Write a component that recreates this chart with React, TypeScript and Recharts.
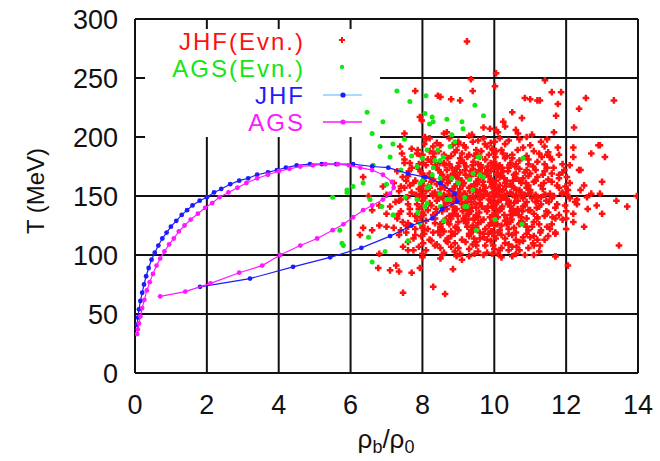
import { ScatterChart, Scatter, XAxis, YAxis, ReferenceLine } from "recharts";

// axis ticks
const rhoTicks = [0, 2, 4, 6, 8, 10, 12, 14];
const tempTicks = [0, 50, 100, 150, 200, 250, 300];

// event-by-event (rho_b/rho_0, T) points
const jhfEvents: [number, number][] = [
  // upper tail
  [9.24, 281], [10.05, 254], [9.35, 249], [10.02, 243], [9.4, 239], [8.5, 234], [8.8, 232], [9.05, 231],
  [10.85, 233], [11.0, 232], [11.2, 231], [10.5, 221], [10.25, 213], [10.3, 209], [10.77, 216], [9.7, 208],
  [9.88, 207], [10.05, 206], [10.66, 203], [8.68, 204], [9.38, 202], [11.05, 202],
  [11.41, 248], [11.6, 238], [11.86, 238], [11.27, 231], [11.77, 228], [12.55, 233], [13.33, 231], [12.36, 224],
  [11.72, 218], [12.22, 208], [11.66, 204], [11.47, 198], [12.9, 193], [12.2, 191], [11.77, 191], [12.7, 186],
  [13.08, 183], [11.47, 185], [11.8, 185], [12.1, 176], [11.47, 174], [12.36, 172], [11.9, 170], [11.6, 169],
  [7.8, 239], [8.43, 235], [7.93, 217], [7.98, 214], [7.5, 203], [8.07, 200], [8.2, 199], [7.38, 192],
  [7.43, 186], [7.87, 189], [7.5, 178], [12.94, 193],
  // right tail
  [12.94, 152], [12.85, 142], [13.0, 135], [13.7, 141], [12.5, 124], [13.47, 108], [13.97, 150], [12.58, 149],
  [12.25, 145], [12.2, 135], [11.7, 99], [11.27, 108], [11.7, 119], [11.47, 124], [11.7, 131], [12.4, 155],
  // lower / left tail
  [8.85, 88], [8.63, 67], [7.46, 68], [8.3, 73], [6.77, 89], [7.1, 87], [7.35, 86], [7.7, 85], [7.27, 91],
  [7.93, 89], [6.8, 101], [12.05, 91], [6.26, 117], [6.35, 123], [6.6, 121], [6.8, 125], [7.0, 124],
  [7.2, 123], [7.46, 107], [7.6, 104], [8.0, 98], [6.35, 166], [6.8, 142], [6.5, 150], [6.9, 158], [7.0, 135],
  [6.6, 138],
  // core
  [8.1, 198], [8.6, 203], [9.0, 196], [9.3, 201], [9.7, 199], [10.1, 204], [10.4, 197], [10.9, 200], [8.4, 195],
  [9.9, 195], [10.6, 206], [11.3, 196],
  [7.7, 190], [8.2, 188], [8.5, 193], [8.9, 187], [9.2, 191], [9.5, 186], [9.8, 192], [10.2, 189], [10.5, 185],
  [10.8, 191], [11.1, 188], [9.0, 194], [8.0, 185], [10.0, 186], [11.5, 187],
  [7.5, 181], [7.9, 177], [8.3, 183], [8.6, 178], [8.8, 184], [9.1, 180], [9.4, 176], [9.6, 183], [9.9, 178],
  [10.3, 182], [10.6, 177], [10.9, 184], [11.2, 179], [11.6, 181], [8.1, 176], [9.3, 185], [10.1, 175],
  [10.7, 180], [11.9, 177], [12.2, 183],
  [7.3, 171], [7.6, 167], [7.9, 173], [8.2, 169], [8.4, 174], [8.7, 166], [8.9, 171], [9.2, 168], [9.4, 173],
  [9.7, 166], [9.9, 171], [10.2, 167], [10.4, 174], [10.6, 169], [10.9, 172], [11.2, 166], [11.4, 171],
  [11.8, 168], [8.5, 170], [9.0, 175], [9.6, 170], [10.1, 173], [10.8, 165], [11.0, 169], [12.4, 172], [7.7, 174],
  [7.2, 161], [7.5, 157], [7.8, 163], [8.0, 159], [8.3, 164], [8.5, 156], [8.7, 161], [8.9, 158], [9.1, 163],
  [9.3, 157], [9.5, 162], [9.7, 159], [9.9, 164], [10.1, 156], [10.3, 161], [10.5, 158], [10.7, 163],
  [10.9, 157], [11.1, 162], [11.3, 159], [11.5, 164], [11.8, 157], [12.1, 161], [8.2, 157], [9.0, 165],
  [9.6, 155], [10.0, 160], [10.6, 165], [11.0, 155], [12.5, 159], [13.0, 162], [7.9, 156],
  [7.0, 151], [7.4, 147], [7.7, 153], [7.9, 149], [8.1, 154], [8.4, 146], [8.6, 151], [8.8, 148], [9.0, 153],
  [9.2, 145], [9.4, 150], [9.6, 147], [9.8, 152], [10.0, 149], [10.2, 154], [10.4, 146], [10.6, 151],
  [10.8, 148], [11.0, 153], [11.2, 146], [11.4, 151], [11.6, 148], [11.9, 153], [12.3, 147], [8.3, 150],
  [8.9, 146], [9.5, 154], [10.1, 145], [10.7, 155], [11.3, 149], [12.7, 152], [13.4, 146], [9.1, 149], [9.9, 146],
  [7.1, 141], [7.4, 137], [7.6, 143], [7.9, 139], [8.2, 144], [8.4, 136], [8.6, 141], [8.9, 138], [9.1, 143],
  [9.3, 135], [9.5, 140], [9.8, 137], [10.0, 142], [10.2, 139], [10.4, 144], [10.6, 136], [10.8, 141],
  [11.0, 138], [11.3, 143], [11.5, 136], [11.7, 140], [12.0, 137], [12.3, 143], [8.0, 136], [8.7, 145],
  [9.6, 144], [10.5, 139], [11.1, 135], [12.6, 139], [9.2, 140], [10.9, 145],
  [7.3, 131], [7.6, 127], [7.8, 133], [8.1, 129], [8.3, 134], [8.5, 126], [8.8, 131], [9.0, 128], [9.2, 133],
  [9.4, 125], [9.7, 130], [9.9, 127], [10.1, 132], [10.3, 129], [10.5, 134], [10.7, 126], [10.9, 131],
  [11.1, 128], [11.4, 133], [11.6, 126], [11.9, 130], [8.6, 129], [9.5, 134], [10.2, 125], [11.2, 132],
  [12.2, 128], [8.0, 125],
  [7.4, 121], [7.8, 117], [8.0, 123], [8.3, 119], [8.5, 124], [8.8, 116], [9.0, 121], [9.3, 118], [9.5, 123],
  [9.7, 115], [9.9, 120], [10.2, 117], [10.4, 122], [10.6, 119], [10.9, 124], [11.1, 116], [11.3, 121],
  [11.7, 118], [8.6, 120], [9.6, 119], [10.0, 125], [10.8, 115], [12.0, 122], [7.6, 124],
  [7.6, 111], [7.9, 107], [8.2, 113], [8.4, 109], [8.7, 114], [9.0, 106], [9.2, 111], [9.5, 108], [9.8, 113],
  [10.0, 105], [10.3, 110], [10.5, 107], [10.8, 112], [11.1, 108], [11.4, 113], [8.9, 110], [9.6, 114],
  [10.2, 106], [11.0, 115],
  [8.0, 101], [8.5, 97], [8.9, 103], [9.3, 99], [9.8, 102], [10.2, 98], [10.6, 101], [11.1, 100], [9.1, 96],
  [10.4, 104], [11.7, 99],
  // core, second pass
  [8.3, 192], [8.75, 199], [9.15, 193], [9.55, 197], [9.95, 190], [10.3, 194], [10.7, 198], [11.0, 193],
  [8.05, 194], [9.4, 196], [10.15, 199], [11.4, 192],
  [7.85, 186], [8.15, 181], [8.45, 188], [8.7, 182], [8.95, 189], [9.25, 183], [9.5, 189], [9.75, 181],
  [10.05, 188], [10.35, 184], [10.65, 189], [10.95, 181], [11.25, 186], [11.55, 183], [8.6, 185], [9.85, 185],
  [10.5, 182], [9.05, 182],
  [7.65, 178], [7.95, 171], [8.25, 179], [8.45, 172], [8.75, 177], [8.95, 173], [9.15, 178], [9.35, 171],
  [9.55, 177], [9.8, 172], [10.0, 179], [10.25, 171], [10.45, 178], [10.7, 173], [10.95, 177], [11.15, 172],
  [11.4, 177], [11.65, 174], [8.35, 176], [9.65, 174], [10.85, 170], [9.05, 170], [10.15, 176], [11.95, 172],
  [7.45, 166], [7.75, 161], [8.05, 167], [8.25, 162], [8.55, 168], [8.75, 163], [8.95, 166], [9.15, 161],
  [9.35, 167], [9.55, 164], [9.75, 169], [9.95, 161], [10.15, 166], [10.35, 163], [10.55, 168], [10.75, 161],
  [10.95, 167], [11.15, 163], [11.35, 168], [11.6, 162], [8.4, 160], [9.45, 160], [10.45, 160], [11.8, 165],
  [9.85, 167], [8.85, 169], [10.05, 163],
  [7.35, 154], [7.65, 159], [7.95, 152], [8.15, 158], [8.35, 153], [8.55, 159], [8.75, 154], [8.95, 160],
  [9.15, 152], [9.35, 158], [9.55, 151], [9.75, 157], [9.95, 153], [10.15, 159], [10.35, 152], [10.55, 157],
  [10.75, 153], [10.95, 159], [11.15, 151], [11.35, 156], [11.55, 152], [11.75, 159], [12.05, 155],
  [8.45, 151], [9.05, 156], [9.65, 150], [10.25, 155], [10.85, 151], [9.45, 155], [10.45, 153], [8.85, 156],
  [7.25, 145], [7.55, 149], [7.85, 143], [8.05, 148], [8.25, 142], [8.45, 149], [8.65, 144], [8.85, 141],
  [9.05, 147], [9.25, 142], [9.45, 148], [9.65, 141], [9.85, 147], [10.05, 144], [10.25, 149], [10.45, 141],
  [10.65, 146], [10.85, 142], [11.05, 148], [11.25, 141], [11.45, 146], [11.75, 143], [12.1, 148],
  [8.75, 147], [9.35, 145], [9.95, 140], [10.55, 144], [11.15, 145], [9.15, 140], [10.35, 147],
  [7.35, 135], [7.65, 139], [7.95, 132], [8.15, 138], [8.35, 131], [8.55, 137], [8.75, 133], [8.95, 139],
  [9.15, 131], [9.35, 137], [9.55, 132], [9.75, 139], [9.95, 134], [10.15, 138], [10.35, 131], [10.55, 136],
  [10.75, 132], [10.95, 138], [11.2, 131], [11.45, 137], [11.8, 134], [8.85, 135], [9.45, 130], [10.05, 136],
  [10.65, 139], [9.25, 138], [10.45, 134],
  [7.55, 125], [7.85, 129], [8.15, 122], [8.35, 127], [8.55, 121], [8.75, 126], [8.95, 123], [9.15, 129],
  [9.35, 121], [9.55, 127], [9.75, 122], [9.95, 128], [10.15, 121], [10.35, 126], [10.55, 123], [10.75, 129],
  [10.95, 121], [11.25, 126], [11.55, 122], [8.65, 130], [9.25, 124], [9.85, 125], [10.45, 128], [11.05, 124],
  [7.75, 114], [8.05, 118], [8.25, 112], [8.5, 117], [8.7, 111], [8.9, 118], [9.1, 113], [9.3, 116],
  [9.5, 111], [9.7, 118], [9.9, 112], [10.1, 119], [10.3, 114], [10.5, 117], [10.7, 111], [10.9, 118],
  [11.2, 113], [11.5, 116], [8.8, 120], [9.4, 120], [10.0, 116], [10.6, 113],
  [8.1, 104], [8.35, 108], [8.6, 102], [8.8, 107], [9.05, 101], [9.3, 105], [9.55, 103], [9.75, 108],
  [9.95, 101], [10.15, 104], [10.4, 109], [10.7, 104], [10.95, 106], [11.25, 103], [8.5, 106], [9.4, 109],
  // densest part of the core
  [8.62, 176], [8.82, 174], [9.02, 178], [9.22, 175], [9.42, 179], [9.62, 176], [9.82, 175], [10.02, 177],
  [10.22, 174], [10.42, 176],
  [8.68, 172], [8.92, 168], [9.18, 172], [9.38, 169], [9.58, 172], [9.78, 168], [9.98, 174], [10.18, 169],
  [10.38, 171], [10.58, 166],
  [8.58, 164], [8.78, 166], [9.08, 162], [9.28, 165], [9.48, 169], [9.68, 162], [9.88, 162], [10.08, 168],
  [10.28, 165], [10.52, 163],
  [8.62, 157], [8.88, 152], [9.12, 159], [9.32, 154], [9.52, 160], [9.72, 154], [9.92, 158], [10.12, 151],
  [10.32, 158], [10.62, 155],
  [8.58, 148], [8.82, 144], [9.02, 150], [9.28, 148], [9.48, 143], [9.72, 150], [9.92, 144], [10.18, 147],
  [10.38, 143], [10.58, 149],
  [8.68, 139], [8.92, 135], [9.12, 137], [9.38, 140], [9.58, 136], [9.82, 141], [10.02, 133], [10.22, 141],
  [10.48, 137], [10.68, 134],
  [8.72, 128], [8.98, 133], [9.22, 127], [9.42, 131], [9.62, 128], [9.88, 132], [10.08, 126], [10.28, 134],
  [10.48, 130], [10.72, 127],
  // events lying over the grid lines in the core
  [8.05, 150], [8.28, 152], [8.52, 149], [8.73, 151], [8.96, 150], [9.18, 152], [9.41, 149], [9.63, 151],
  [9.86, 150], [10.07, 152], [10.29, 149], [10.51, 151], [10.73, 150], [10.96, 152], [11.18, 149],
  [11.42, 151], [11.66, 150], [11.88, 152], [7.82, 151], [7.58, 149],
  [9.97, 108], [10.04, 114], [9.95, 120], [10.03, 127], [9.98, 133], [10.05, 139], [9.96, 145], [10.02, 157],
  [9.94, 163], [10.06, 169], [9.99, 176], [10.03, 183], [9.96, 189], [10.01, 196],
  [8.02, 110], [7.97, 116], [8.04, 121], [7.96, 128], [8.03, 134], [7.98, 141], [8.01, 146], [7.97, 156],
  [8.04, 163], [7.99, 169], [8.02, 178], [7.96, 184],
  [8.55, 100], [8.95, 99], [9.45, 101], [9.7, 100], [10.1, 101], [10.5, 99], [10.85, 100],
  [12.0, 131], [11.97, 142], [12.03, 151], [11.98, 158], [12.02, 166],
  [7.35, 117], [7.55, 119], [7.75, 104], [7.45, 128], [7.65, 135], [7.35, 146], [7.55, 163], [7.4, 158],
  [7.62, 171], [7.8, 122],
  [8.22, 166], [8.48, 178], [8.38, 139], [8.44, 120], [8.66, 112], [8.92, 124], [9.1, 186], [9.28, 130],
  [9.44, 114], [9.64, 188], [9.84, 118], [10.24, 186], [10.4, 118], [10.58, 175], [10.78, 137], [10.88, 161],
  [11.08, 175], [11.18, 140], [11.28, 119], [11.38, 161], [11.52, 145], [11.62, 132], [11.08, 110],
  [10.62, 107], [9.74, 194], [8.84, 193], [9.46, 184], [10.84, 126], [11.32, 183], [8.32, 186],
];

const agsEvents: [number, number][] = [
  [7.29, 239], [7.65, 230], [8.1, 235], [6.46, 221], [8.07, 220], [8.27, 217], [8.3, 213], [8.2, 211],
  [6.6, 203], [6.82, 192], [7.18, 194], [7.1, 183], [7.7, 184], [8.13, 189], [8.43, 189], [8.77, 192],
  [7.85, 175], [8.35, 180], [8.49, 180], [8.0, 182], [8.3, 174], [8.27, 168], [8.0, 163], [8.49, 165],
  [9.41, 169], [9.7, 166], [9.55, 183], [10.8, 182], [8.58, 183], [9.46, 227], [8.68, 215], [9.1, 213],
  [9.7, 218], [9.13, 207], [8.82, 202], [8.13, 157], [8.49, 152], [9.18, 149], [8.77, 147], [9.24, 141],
  [8.13, 144], [7.85, 147], [7.52, 149], [7.18, 134], [6.96, 103], [6.6, 94], [6.07, 158], [5.7, 121],
  [5.76, 110], [10.02, 130], [10.77, 126], [7.93, 127], [7.87, 136], [6.63, 176], [6.5, 115], [5.8, 108],
  [5.9, 153], [5.5, 149], [5.9, 155], [6.35, 161], [6.54, 147], [8.07, 141], [8.2, 158], [7.93, 161],
  [8.5, 141], [8.68, 147], [9.18, 141], [9.0, 161], [9.4, 155], [9.32, 164], [8.82, 165], [9.6, 168],
  [9.6, 183], [7.2, 134], [6.87, 141], [7.4, 172], [7.0, 160], [8.6, 129], [9.5, 121], [7.6, 112],
  [8.9, 196], [7.5, 198], [6.9, 213],
];

// averaged trajectories, in time order
const jhfPath: [number, number][] = [
  [1.81, 73], [3.2, 80], [4.4, 90], [5.43, 98], [6.3, 106], [7.1, 116], [7.7, 125], [8.27, 131], [8.55, 139],
  [8.97, 145], [8.9, 152], [8.5, 161], [8.08, 166], [7.6, 169], [7.05, 174], [6.6, 175], [6.07, 177],
  [5.6, 177], [5.2, 177], [4.87, 177], [4.5, 176], [4.2, 174], [3.95, 172], [3.7, 170], [3.4, 168],
  [3.15, 165], [2.9, 163], [2.65, 160], [2.4, 156], [2.2, 153], [2.0, 149], [1.8, 146], [1.6, 142],
  [1.45, 138], [1.3, 134], [1.15, 129], [1.0, 124], [0.88, 119], [0.76, 114], [0.65, 108], [0.55, 102],
  [0.46, 96], [0.38, 89], [0.31, 82], [0.25, 75], [0.2, 68], [0.15, 61], [0.11, 54], [0.08, 47], [0.06, 41],
];

const agsPath: [number, number][] = [
  [0.7, 65], [1.4, 69], [2.1, 76], [2.9, 85], [3.54, 91], [4.04, 100], [4.6, 108], [5.07, 114], [5.5, 121],
  [5.8, 126], [6.07, 132], [6.35, 138], [6.6, 142], [6.9, 147], [7.1, 152], [7.2, 157], [7.15, 162],
  [6.9, 168], [6.6, 172], [6.27, 174], [5.95, 176], [5.65, 177], [5.3, 177], [4.95, 176], [4.6, 175],
  [4.3, 173], [4.0, 171], [3.7, 168], [3.4, 165], [3.1, 161], [2.85, 157], [2.6, 153], [2.35, 149],
  [2.15, 144], [1.95, 140], [1.75, 135], [1.55, 130], [1.38, 125], [1.22, 120], [1.08, 114], [0.95, 109],
  [0.82, 103], [0.7, 97], [0.6, 91], [0.5, 84], [0.41, 77], [0.33, 70], [0.26, 62], [0.2, 55], [0.15, 48],
  [0.11, 42], [0.08, 37], [0.06, 33],
];

const RED = "#ff1010";
const GREEN = "#14e614";
const BLUE = "#1c1cff";
const MAGENTA = "#ff18ff";
const FONT = "'Liberation Sans', Arial, Helvetica, sans-serif";

const toPoints = (pairs: [number, number][]) => pairs.map(([x, y]) => ({ x, y }));

const plusShape = (color: string) => (p: any) => (
  <path
    d={`M${p.cx - 3.3},${p.cy}h6.6M${p.cx},${p.cy - 3.3}v6.6`}
    stroke={color}
    strokeWidth={2.5}
    fill="none"
  />
);

const dotShape = (color: string, r: number) => (p: any) => (
  <circle cx={p.cx} cy={p.cy} r={r} fill={color} />
);

const GRID = { stroke: "#111", strokeWidth: 2 };

export default function App() {
  return (
    <div style={{ position: "absolute", left: 0, top: 0, width: 660, height: 461, background: "#fff" }}>
      <ScatterChart width={660} height={461} margin={{ top: 19, right: 22, left: 0, bottom: 0 }}>
        <XAxis
          type="number"
          dataKey="x"
          domain={[0, 14]}
          ticks={rhoTicks}
          allowDataOverflow
          height={88}
          tickSize={0}
          tickMargin={22}
          axisLine={GRID}
          tickLine={false}
          tick={{ fontSize: 27, fill: "#111", fontFamily: FONT }}
        />
        <YAxis
          type="number"
          dataKey="y"
          domain={[0, 300]}
          ticks={tempTicks}
          allowDataOverflow
          width={135}
          tickSize={0}
          tickMargin={17}
          axisLine={GRID}
          tickLine={false}
          tick={{ fontSize: 27, fill: "#111", fontFamily: FONT }}
        />

        {/* grid, kept clear of the key in the upper left */}
        {[2, 4, 6].map((v) => (
          <ReferenceLine key={"vs" + v} segment={[{ x: v, y: 0 }, { x: v, y: 200 }]} {...GRID} />
        ))}
        {[8, 10, 12, 14].map((v) => (
          <ReferenceLine key={"v" + v} segment={[{ x: v, y: 0 }, { x: v, y: 300 }]} {...GRID} />
        ))}
        {[50, 100, 150].map((v) => (
          <ReferenceLine key={"h" + v} segment={[{ x: 0, y: v }, { x: 14, y: v }]} {...GRID} />
        ))}
        {[200, 250].map((v) => (
          <ReferenceLine key={"hs" + v} segment={[{ x: 6.82, y: v }, { x: 14, y: v }]} {...GRID} />
        ))}
        <ReferenceLine segment={[{ x: 0, y: 300 }, { x: 14, y: 300 }]} {...GRID} />
        {/* inward tick marks along the border of the key area */}
        {[2, 4, 6].map((v) => (
          <ReferenceLine key={"tt" + v} segment={[{ x: v, y: 300 }, { x: v, y: 291.5 }]} {...GRID} />
        ))}
        {[200, 250].map((v) => (
          <ReferenceLine key={"lt" + v} segment={[{ x: 0, y: v }, { x: 0.28, y: v }]} {...GRID} />
        ))}

        <Scatter
          name="JHF(Evn.)"
          data={toPoints(jhfEvents)}
          shape={plusShape(RED)}
          isAnimationActive={false}
        />
        <Scatter
          name="AGS(Evn.)"
          data={toPoints(agsEvents)}
          shape={dotShape(GREEN, 2.5)}
          isAnimationActive={false}
        />
        <Scatter
          name="JHF"
          data={toPoints(jhfPath)}
          line={{ stroke: BLUE, strokeWidth: 1.2 }}
          lineType="joint"
          shape={dotShape(BLUE, 2.4)}
          isAnimationActive={false}
        />
        <Scatter
          name="AGS"
          data={toPoints(agsPath)}
          line={{ stroke: MAGENTA, strokeWidth: 1.2 }}
          lineType="joint"
          shape={dotShape(MAGENTA, 2.4)}
          isAnimationActive={false}
        />
      </ScatterChart>

      {/* key and axis titles */}
      <svg
        width={660}
        height={461}
        style={{ position: "absolute", left: 0, top: 0, pointerEvents: "none" }}
        fontFamily={FONT}
      >
        <g fontSize={24} letterSpacing={2} textAnchor="end">
          <text x={305} y={50} fill={RED}>JHF(Evn.)</text>
          <text x={305} y={77} fill={GREEN}>AGS(Evn.)</text>
          <text x={305} y={104} fill={BLUE}>JHF</text>
          <text x={305} y={131} fill={MAGENTA}>AGS</text>
        </g>
        <path d="M339,40h6M342,37v6" stroke={RED} strokeWidth={2} />
        <circle cx={342} cy={67} r={2.2} fill={GREEN} />
        <line x1={323} y1={95} x2={362} y2={95} stroke="#a8dcff" strokeWidth={2} />
        <circle cx={343} cy={95} r={2.6} fill={BLUE} />
        <line x1={323} y1={122} x2={362} y2={122} stroke={MAGENTA} strokeWidth={1.5} />
        <circle cx={343} cy={122} r={2.6} fill={MAGENTA} />

        <text transform="translate(44,191) rotate(-90)" textAnchor="middle" fontSize={24} fill="#111">
          T (MeV)
        </text>
        <text x={386} y={448} textAnchor="middle" fontSize={26} fill="#111">
          ρ<tspan fontSize={18} dy={5}>b</tspan>
          <tspan dy={-5}>/ρ</tspan>
          <tspan fontSize={18} dy={5}>0</tspan>
        </text>
      </svg>
    </div>
  );
}
